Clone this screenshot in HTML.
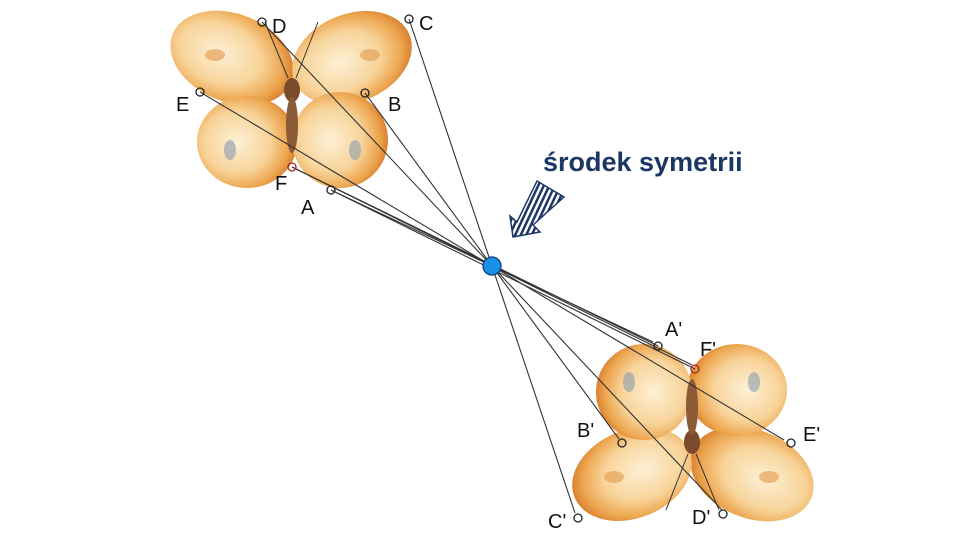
<!DOCTYPE html>
<html><head><meta charset="utf-8"><style>
html,body{margin:0;padding:0;background:#fff}
svg{display:block}
text{font-family:"Liberation Sans",sans-serif}
</style></head><body>
<svg width="960" height="540" viewBox="0 0 960 540" xmlns="http://www.w3.org/2000/svg">
<defs>
<radialGradient id="wg" cx="0.4" cy="0.5" r="0.6">
<stop offset="0" stop-color="#fdf0d6"/><stop offset="0.55" stop-color="#f8d49a"/><stop offset="0.85" stop-color="#eca54e"/><stop offset="1" stop-color="#d98030"/>
</radialGradient>
<pattern id="st" width="5" height="5" patternUnits="userSpaceOnUse" patternTransform="rotate(25)">
<rect width="5" height="5" fill="#fff"/><rect width="2.5" height="5" fill="#1c3766"/>
</pattern>
<g id="bf">
<ellipse cx="232" cy="58" rx="64" ry="44" transform="rotate(22 232 58)" fill="url(#wg)"/>
<ellipse cx="352" cy="58" rx="62" ry="44" transform="rotate(-22 352 58)" fill="url(#wg)"/>
<ellipse cx="247" cy="142" rx="50" ry="46" fill="url(#wg)"/>
<ellipse cx="340" cy="140" rx="48" ry="48" fill="url(#wg)"/>
<ellipse cx="215" cy="55" rx="10" ry="6" fill="#e6a25a" opacity="0.7"/>
<ellipse cx="370" cy="55" rx="10" ry="6" fill="#e6a25a" opacity="0.7"/>
<ellipse cx="230" cy="150" rx="6" ry="10" fill="#8a9bb0" opacity="0.6"/>
<ellipse cx="355" cy="150" rx="6" ry="10" fill="#8a9bb0" opacity="0.6"/>
<ellipse cx="292" cy="90" rx="8" ry="12" fill="#7a4a2a"/>
<ellipse cx="292" cy="125" rx="6" ry="28" fill="#8b5a36"/>
<line x1="288" y1="78" x2="265" y2="22" stroke="#333" stroke-width="1"/>
<line x1="296" y1="78" x2="318" y2="22" stroke="#333" stroke-width="1"/>
</g>
</defs>
<use href="#bf"/>
<use href="#bf" transform="rotate(180 492 266)"/>
<g stroke="#333" stroke-width="1.1">
<line x1="262" y1="22" x2="722" y2="510"/>
<line x1="409" y1="19" x2="575" y2="513"/>
<line x1="200" y1="92" x2="784" y2="440"/>
<line x1="365" y1="93" x2="619" y2="439"/>
<line x1="292" y1="167" x2="692" y2="365"/>
<line x1="331" y1="190" x2="653" y2="342"/>
<line x1="331" y1="190" x2="695" y2="369"/>
<line x1="292" y1="167" x2="658" y2="346"/>
</g>
<g fill="none" stroke="#222" stroke-width="1.3">
<circle cx="262" cy="22" r="4"/><circle cx="409" cy="19" r="4"/><circle cx="200" cy="92" r="4"/>
<circle cx="365" cy="93" r="4"/><circle cx="292" cy="167" r="4" stroke="#a22"/><circle cx="331" cy="190" r="4"/>
<circle cx="658" cy="346" r="4"/><circle cx="695" cy="369" r="4" stroke="#a22"/><circle cx="622" cy="443" r="4"/>
<circle cx="791" cy="443" r="4"/><circle cx="578" cy="518" r="4"/><circle cx="723" cy="514" r="4"/>
</g>
<circle cx="492" cy="266" r="9" fill="#1a8fe8" stroke="#0b3e78" stroke-width="1.3"/>
<g font-size="20" fill="#111">
<text x="272" y="33">D</text><text x="419" y="30">C</text><text x="176" y="111">E</text>
<text x="388" y="111">B</text><text x="275" y="190">F</text><text x="301" y="214">A</text>
<text x="665" y="336">A'</text><text x="700" y="356">F'</text><text x="577" y="437">B'</text>
<text x="803" y="441">E'</text><text x="548" y="528">C'</text><text x="692" y="524">D'</text>
</g>
<text x="543" y="171" font-size="27" font-weight="bold" fill="#1c3766">środek symetrii</text>
<polygon points="537,181 564,197 533,225 540,232 513,237 510,216 517,222" fill="url(#st)" stroke="#1c3766" stroke-width="1.5"/>
</svg>
</body></html>
